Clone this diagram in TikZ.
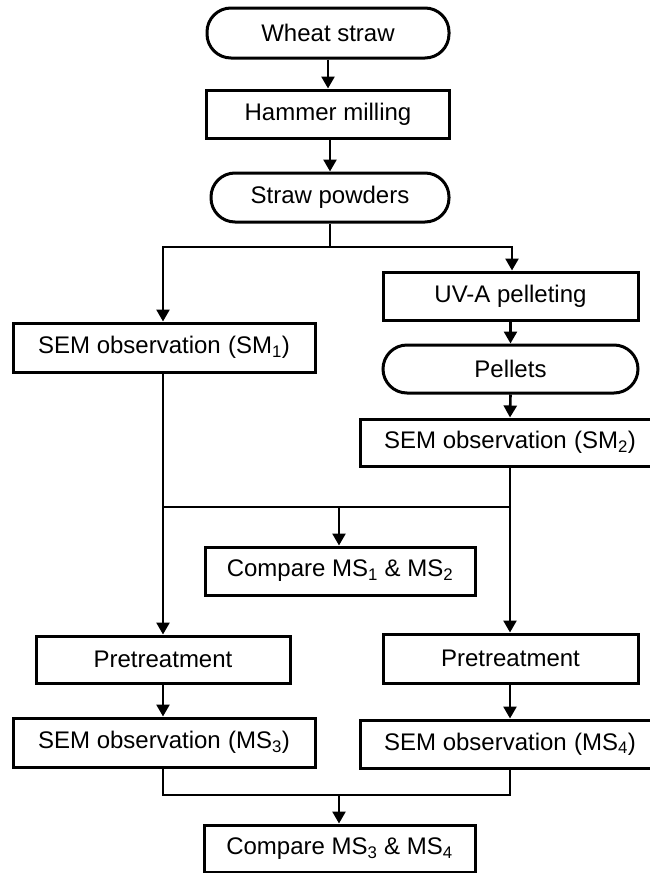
\documentclass[tikz,border=0pt]{standalone}
\usepackage{fontspec}
\setmainfont{Liberation Sans}
\usetikzlibrary{arrows.meta}
\tikzset{
  box/.style={draw, line width=3pt, rectangle, inner sep=0pt, font=\fontsize{24}{28}\selectfont},
  term/.style={box, rounded corners=24pt},
  conn/.style={line width=2.6pt},
  arr/.style={conn, -{Triangle[length=12pt,width=13pt]}}
}
\newcommand{\sub}[1]{\textsubscript{#1}}
\begin{document}
\begin{tikzpicture}[x=1pt,y=-1pt]
\useasboundingbox (0,0) rectangle (650,873);
\clip (0,0) rectangle (650,873);
% nodes
\node[term, minimum width=242pt, minimum height=50pt] (wheat) at (328,33) {Wheat straw};
\node[box, minimum width=243pt, minimum height=48pt] (hammer) at (328,114) {Hammer milling};
\node[term, minimum width=238pt, minimum height=49pt] (powders) at (330,197.5) {Straw powders};
\node[box, minimum width=255pt, minimum height=48pt] (uva) at (510.5,296) {UV-A pelleting};
\node[term, minimum width=255pt, minimum height=48pt] (pellets) at (510.5,369) {Pellets};
\node[box, minimum width=302pt, minimum height=49pt] (sm1) at (164,347.5) {SEM observation\hspace{0.3em}(SM\sub{1})};
\node[box, minimum width=300pt, minimum height=47pt] (sm2) at (510,442.5) {SEM observation\hspace{0.3em}(SM\sub{2})};
\node[box, minimum width=270pt, minimum height=48pt] (cmp12) at (340,571) {Compare MS\sub{1} \& MS\sub{2}};
\node[box, minimum width=254pt, minimum height=47pt] (pre1) at (163,659.5) {Pretreatment};
\node[box, minimum width=255pt, minimum height=49pt] (pre2) at (510.5,658.5) {Pretreatment};
\node[box, minimum width=302pt, minimum height=49pt] (ms3) at (164,742.5) {SEM observation\hspace{0.3em}(MS\sub{3})};
\node[box, minimum width=300pt, minimum height=48pt] (ms4) at (510,744) {SEM observation\hspace{0.3em}(MS\sub{4})};
\node[box, minimum width=271pt, minimum height=47pt] (cmp34) at (339.5,848.5) {Compare MS\sub{3} \& MS\sub{4}};
% junction coordinates
\coordinate (j1) at (330,247);
\coordinate (jL) at (163,507);
\coordinate (jR) at (510,507);
\coordinate (jM) at (339,507);
\coordinate (kL) at (163,795);
\coordinate (kR) at (510,795);
\coordinate (kM) at (339,795);
% connectors
\draw[arr] (wheat.south) -- (hammer.north);
\draw[arr] (hammer.south -| powders.north) -- (powders.north);
\draw[conn] (powders.south) -- (j1);
\draw[arr] (j1) -| (163,0 |- sm1.north);
\draw[arr] (j1) -| (512,0 |- uva.north);
\draw[arr] (uva.south) -- (pellets.north);
\draw[arr] (pellets.south) -- (sm2.north);
\draw[arr] (sm1.south -| jL) -- (pre1.north -| jL);
\draw[arr] (sm2.south -| jR) -- (pre2.north -| jR);
\draw[conn] (jL) -- (jR);
\draw[arr] (jM) -- (cmp12.north -| jM);
\draw[arr] (pre1.south -| jL) -- (ms3.north -| jL);
\draw[arr] (pre2.south -| jR) -- (ms4.north -| jR);
\draw[conn] (ms3.south -| kL) -- (kL) -- (kR) -- (ms4.south -| kR);
\draw[arr] (kM) -- (cmp34.north -| kM);
\end{tikzpicture}
\end{document}
